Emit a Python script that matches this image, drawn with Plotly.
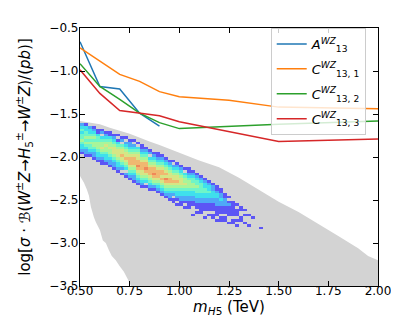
import numpy as np
import plotly.graph_objects as go

# benchmark lines
mA = [0.5, 0.6, 0.7, 0.8, 0.9]
A13 = [-0.66, -1.18, -1.21, -1.49, -1.64]
mC1 = [0.5, 0.6, 0.7, 0.8, 0.9, 1.0, 1.25, 1.5, 2.0]
C131 = [-0.73, -0.88, -1.04, -1.12, -1.24, -1.30, -1.34, -1.42, -1.44]
mC2 = [0.5, 0.6, 0.7, 0.8, 0.9, 1.0, 1.5, 2.0]
C132 = [-0.915, -1.18, -1.33, -1.49, -1.60, -1.67, -1.62, -1.58]
mC3 = [0.5, 0.6, 0.7, 0.8, 0.9, 1.0, 1.5, 2.0]
C133 = [-0.985, -1.26, -1.46, -1.49, -1.52, -1.59, -1.82, -1.79]

# grey allowed region (upper edge, then lower-left edge)
up_m = [0.50, 0.60, 0.65, 0.75, 0.85, 0.90, 1.00, 1.10, 1.20, 1.30, 1.40, 1.50,
        1.60, 1.70, 1.75, 1.80, 1.90, 1.95, 2.00]
up_v = [-1.58, -1.62, -1.66, -1.73, -1.82, -1.86, -1.95, -2.04, -2.12, -2.24, -2.38, -2.52,
        -2.64, -2.78, -2.85, -2.92, -3.06, -3.15, -3.20]
lo_m = [0.757, 0.74, 0.72, 0.70, 0.68, 0.66, 0.645, 0.63, 0.615, 0.60, 0.58, 0.57,
        0.555, 0.545, 0.535, 0.52, 0.50]
lo_v = [-3.50, -3.42, -3.33, -3.27, -3.20, -3.15, -3.08, -3.00, -2.97, -2.85, -2.76, -2.70,
        -2.58, -2.45, -2.38, -2.30, -2.22]

# scan density: 0.02 TeV x 0.03 bins, per column first row and levels (0 = empty)
col_start = [1, 1, 2, 2, 3, 3, 4, 4, 5, 5, 6, 6, 7, 7, 8, 9, 10, 11, 12, 12, 13, 14, 15,
             15, 16, 17, 18, 18, 19, 20, 21, 22, 23, 24, 25, 26, 28, 29, 31, 32, 33, 34,
             36, 37, 0, 41]
col_levels = ["234344543321", "1334454543221", "233454544321", "1234545543221",
              "1134455543321", "12034556543211", "1234565543321", "11345565543221",
              "12345666543221", "101345666543321", "120456676543201", "1023456676543021",
              "1223456777654321", "10234567776543221", "10345667787654321",
              "11234567776654321", "1234567787654301", "1203456777654321",
              "123456778765421", "1123456777654321", "1234567767654321",
              "1234567687654321", "1234566776543221", "10234566765432011",
              "12345667654332101", "1234566654332211", "1034556543322101",
              "1123455543322111", "123445543322110001", "1234454433221101",
              "123444433221111", "1233443322111001", "12334332211101", "12233322111011",
              "11233222111101", "1122322111011", "11222111011", "10121111001",
              "111111011", "101110101", "110011", "101001", "10001", "1", "", "1"]
# blended cell colours, one per level 1..8
level_colors = ["#5c55f5", "#4fa8f7", "#3fe0ec", "#6ff5c8", "#a8f59a", "#d6e685",
                "#f0b870", "#f08858"]

x0, dx = 0.50, 0.02
y0, dy = -1.58, 0.03
nrow = 43
xc = [x0 + dx * (i + 0.5) for i in range(len(col_levels))]
yc = [y0 - dy * (j + 0.5) for j in range(nrow)]
z = [[None] * len(col_levels) for _ in range(nrow)]
for i, (s, lev) in enumerate(zip(col_start, col_levels)):
    for k, ch in enumerate(lev):
        if ch != "0":
            z[s + k][i] = int(ch)

# stepped colourscale so level n gets level_colors[n-1]
nl = len(level_colors)
cscale = []
for n, c in enumerate(level_colors):
    cscale.append([n / nl, c])
    cscale.append([(n + 1) / nl, c])

fig = go.Figure()

# grey region as a shape under all traces (heatmaps sit below scatter fills)
pm = up_m + [2.0, 0.757] + lo_m
pv = up_v + [-3.7, -3.7] + lo_v
path = "M " + " L ".join("%g,%g" % (a, b) for a, b in zip(pm, pv)) + " Z"
fig.add_shape(type="path", path=path, xref="x", yref="y", fillcolor="#d3d3d3",
              line=dict(width=0), layer="below")

fig.add_trace(go.Heatmap(x=xc, y=yc, z=z, colorscale=cscale, zmin=0.5, zmax=nl + 0.5,
                         showscale=False, hoverinfo="skip"))

lines = [(mA, A13, "#1f77b4", "<i>A</i><sup><i>WZ</i></sup><sub>13</sub>"),
         (mC1, C131, "#ff7f0e", "<i>C</i><sup><i>WZ</i></sup><sub>13, 1</sub>"),
         (mC2, C132, "#2ca02c", "<i>C</i><sup><i>WZ</i></sup><sub>13, 2</sub>"),
         (mC3, C133, "#d62728", "<i>C</i><sup><i>WZ</i></sup><sub>13, 3</sub>")]
for k, (m, v, c, name) in enumerate(lines):
    fig.add_trace(go.Scatter(x=m, y=v, mode="lines", line=dict(color=c, width=1.5),
                             name=name, legendgroup=str(k)))

axis = dict(showline=True, linecolor="black", linewidth=1.2, mirror="ticks",
            ticks="inside", ticklen=5, tickwidth=1, tickcolor="black",
            showgrid=False, zeroline=False, tickfont=dict(size=12, color="black"))
fig.update_xaxes(range=[0.5, 2.0], tickvals=[0.5, 0.75, 1.0, 1.25, 1.5, 1.75, 2.0],
                 tickformat=".2f", ticklabelstandoff=-7,
                 title=dict(text="<i>m</i><sub><i>H</i>5</sub> (TeV)", font=dict(size=15, color="black"),
                            standoff=0), **axis)
fig.update_yaxes(range=[-3.5, -0.5], tickvals=[-3.5, -3.0, -2.5, -2.0, -1.5, -1.0, -0.5],
                 tickformat=".1f", ticklabelstandoff=-2,
                 title=dict(text="log[<i>σ</i> · <i>ℬ</i>(<i>W</i><sup>±</sup><i>Z</i>→<i>H</i><sub>5</sub><sup>±</sup>→<i>W</i><sup>±</sup><i>Z</i>)/(<i>pb</i>)]",
                            font=dict(size=15, color="black"), standoff=15), **axis)
fig.update_layout(width=399, height=332, margin=dict(l=72, r=29, t=20, b=54),
                  plot_bgcolor="white", paper_bgcolor="white",
                  font=dict(family="DejaVu Sans", color="black"),
                  legend=dict(x=0.64, y=1.0, xanchor="left", yanchor="top",
                              bgcolor="rgba(255,255,255,0.8)", bordercolor="#cccccc",
                              borderwidth=1, font=dict(size=13), itemwidth=30,
                              tracegroupgap=5))
fig.write_html("out.html")
